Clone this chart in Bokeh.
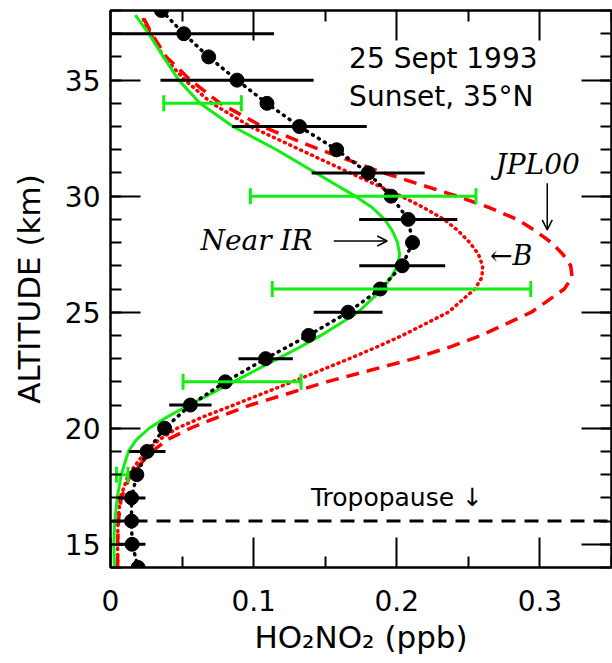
from bokeh.plotting import figure
from bokeh.models import (LinearAxis, FixedTicker, Range1d, ColumnDataSource, Whisker,
                          Span, Label, Arrow, OpenHead, TeeHead)
from bokeh.embed import file_html
from bokeh.resources import INLINE

# ---------------- data ----------------
# balloon profile (black dots)
obs_alt = [38, 37, 36, 35, 34, 33, 32, 31, 30, 29, 28, 27, 26, 25, 24, 23, 22, 21, 20, 19, 18, 17, 16, 15, 14]
obs_val = [0.0356, 0.0512, 0.0686, 0.0884, 0.1093, 0.1320, 0.1580, 0.1800, 0.1960, 0.2080, 0.2110,
           0.2038, 0.1884, 0.1660, 0.1384, 0.1084, 0.0802, 0.0558, 0.0378, 0.0256, 0.0184, 0.0147,
           0.0147, 0.0151, 0.0193]
# error bars on the balloon profile (every 2 km)
err_alt = [37, 35, 33, 31, 29, 27, 25, 23, 21, 19, 17, 15]
err_half = [0.0630, 0.0535, 0.0470, 0.0395, 0.0343, 0.0300, 0.0240, 0.0190, 0.0148, 0.0128, 0.0097, 0.0093]
# near-IR retrievals (green error bars)
nir_alt = [34, 30, 26, 22, 18]
nir_val = [0.0643, 0.1765, 0.2033, 0.0919, 0.0082]
nir_half = [0.0271, 0.0788, 0.0903, 0.0412, 0.0040]

# model curves
model_alt = [14, 15, 16, 17, 18, 19, 19.5, 20, 20.5, 21, 22, 23, 23.5, 24, 25, 26, 26.5, 27, 27.5,
             28, 28.5, 29, 29.5, 30, 31, 32, 33, 34, 35, 36, 37, 37.8]
near_ir = [0.0028, 0.0023, 0.0030, 0.0047, 0.0075, 0.0125, 0.0180, 0.0270, 0.0400, 0.0550, 0.0860,
           0.1170, 0.1325, 0.1470, 0.1730, 0.1900, 0.1960, 0.2005, 0.2020, 0.2005, 0.1970, 0.1915,
           0.1830, 0.1710, 0.1435, 0.1160, 0.0855, 0.0625, 0.0477, 0.0370, 0.0267, 0.0174]
model_b = [0.0050, 0.0050, 0.0052, 0.0068, 0.0125, 0.0245, 0.0340, 0.0465, 0.0650, 0.0860, 0.1270,
           0.1670, 0.1860, 0.2040, 0.2360, 0.2545, 0.2595, 0.2600, 0.2570, 0.2510, 0.2430, 0.2330,
           0.2190, 0.2030, 0.1674, 0.1325, 0.0977, 0.0709, 0.0520, 0.0372, 0.0279, 0.0215]
jpl00 = [0.0050, 0.0050, 0.0055, 0.0075, 0.0140, 0.0290, 0.0395, 0.0558, 0.0760, 0.0977, 0.1510,
         0.2120, 0.2370, 0.2590, 0.2940, 0.3170, 0.3225, 0.3215, 0.3160, 0.3080, 0.2970, 0.2840,
         0.2650, 0.2420, 0.1910, 0.1465, 0.1060, 0.0767, 0.0558, 0.0390, 0.0288, 0.0221]

tropopause_alt = 16

x_ticks = [0, 0.1, 0.2, 0.3]
x_minor = [0.05, 0.15, 0.25, 0.35]
y_ticks = [15, 20, 25, 30, 35]
y_minor = list(range(14, 39))

# ---------------- styling ----------------
GREEN = "#11ee11"
RED = "#ff0000"
SANS = "DejaVu Sans"
SERIF = "DejaVu Serif"

p = figure(width=612, height=663, x_range=Range1d(0, 0.35), y_range=Range1d(14, 38),
           output_backend="svg", toolbar_location=None,
           x_axis_type=None, y_axis_type=None,
           min_border_left=110, min_border_right=1, min_border_top=10, min_border_bottom=96)
p.outline_line_color = "black"
p.outline_line_width = 2
p.background_fill_color = "white"
p.border_fill_color = "white"


def style_axis(ax, ticks, minor, show_labels):
    ax.ticker = FixedTicker(ticks=ticks, minor_ticks=minor)
    ax.major_tick_in = 30
    ax.major_tick_out = 0
    ax.minor_tick_in = 11
    ax.minor_tick_out = 0
    ax.axis_line_width = 2
    ax.axis_line_color = "black"
    ax.major_tick_line_width = 2
    ax.minor_tick_line_width = 2
    ax.major_tick_line_color = "black"
    ax.minor_tick_line_color = "black"
    if show_labels:
        ax.major_label_text_font = SANS
        ax.major_label_text_font_size = "28px"
        ax.major_label_text_color = "black"
        ax.axis_label_text_font = SANS
        ax.axis_label_text_font_size = "31px"
        ax.axis_label_text_font_style = "normal"
        ax.axis_label_text_color = "black"
    else:
        ax.major_label_text_font_size = "1px"
        ax.major_label_text_color = None
        ax.major_label_standoff = 0


xb = LinearAxis(axis_label="HO\u2082NO\u2082 (ppb)")
style_axis(xb, x_ticks, x_minor, True)
xb.major_label_overrides = {0: "0", 0.1: "0.1", 0.2: "0.2", 0.3: "0.3"}
xb.major_label_standoff = 22
xb.axis_label_standoff = 5
p.add_layout(xb, "below")

yl = LinearAxis(axis_label="ALTITUDE (km)")
style_axis(yl, y_ticks, y_minor, True)
yl.major_label_standoff = 10
yl.axis_label_standoff = 15
p.add_layout(yl, "left")

xt = LinearAxis()
style_axis(xt, x_ticks, x_minor, False)
p.add_layout(xt, "above")

yr = LinearAxis()
style_axis(yr, y_ticks, y_minor, False)
p.add_layout(yr, "right")

# tropopause
p.add_layout(Span(location=tropopause_alt, dimension="width", line_color="black",
                  line_width=3, line_dash="14 9"))

# model curves
p.line(jpl00, model_alt, line_color=RED, line_width=3.5, line_dash="13 8")
p.line(model_b, model_alt, line_color=RED, line_width=3.5, line_dash="1 5", line_cap="round")
p.line(near_ir, model_alt, line_color=GREEN, line_width=3)

# near-IR error bars with caps
nir_src = ColumnDataSource(dict(alt=nir_alt,
                                lo=[v - h for v, h in zip(nir_val, nir_half)],
                                hi=[v + h for v, h in zip(nir_val, nir_half)]))
p.add_layout(Whisker(base="alt", lower="lo", upper="hi", dimension="width", source=nir_src,
                     line_color=GREEN, line_width=3, level="glyph",
                     upper_head=TeeHead(size=16, line_color=GREEN, line_width=3),
                     lower_head=TeeHead(size=16, line_color=GREEN, line_width=3)))

# balloon error bars
val_at = dict(zip(obs_alt, obs_val))
err_src = ColumnDataSource(dict(alt=err_alt,
                                lo=[val_at[a] - h for a, h in zip(err_alt, err_half)],
                                hi=[val_at[a] + h for a, h in zip(err_alt, err_half)]))
p.segment(x0="lo", y0="alt", x1="hi", y1="alt", source=err_src, line_color="black", line_width=3)

# balloon profile
p.line(obs_val, obs_alt, line_color="black", line_width=3.5, line_dash="1 6", line_cap="round")
p.scatter(obs_val, obs_alt, size=14, fill_color="black", line_color="black")

# annotations
p.add_layout(Label(x=0.1667, y=35.95, text="25 Sept 1993", text_font=SANS,
                   text_font_size="28px", text_color="black", text_baseline="alphabetic"))
p.add_layout(Label(x=0.1667, y=34.30, text="Sunset, 35\u00b0N", text_font=SANS,
                   text_font_size="28px", text_color="black", text_baseline="alphabetic"))
p.add_layout(Label(x=0.140, y=17.02, text="Tropopause \u2193", text_font=SANS,
                   text_font_size="25px", text_color="black", text_baseline="alphabetic"))
p.add_layout(Label(x=0.0628, y=28.10, text="Near IR", text_font=SERIF, text_font_style="italic",
                   text_font_size="28px", text_color="black", text_baseline="alphabetic"))
p.add_layout(Arrow(end=OpenHead(size=10, line_width=1.5, line_color="black"),
                   x_start=0.1560, y_start=28.07, x_end=0.1933, y_end=28.07,
                   line_width=1.5, line_color="black"))
p.add_layout(Label(x=0.2651, y=27.45, text="\u2190B", text_font=SERIF, text_font_style="italic",
                   text_font_size="27px", text_color="black", text_baseline="alphabetic"))
p.add_layout(Label(x=0.2690, y=31.35, text="JPL00", text_font=SERIF, text_font_style="italic",
                   text_font_size="28px", text_color="black", text_baseline="alphabetic"))
p.add_layout(Arrow(end=OpenHead(size=10, line_width=1.5, line_color="black"),
                   x_start=0.3051, y_start=30.56, x_end=0.3051, y_end=28.55,
                   line_width=1.5, line_color="black"))

open("out.html", "w").write(file_html(p, INLINE))
